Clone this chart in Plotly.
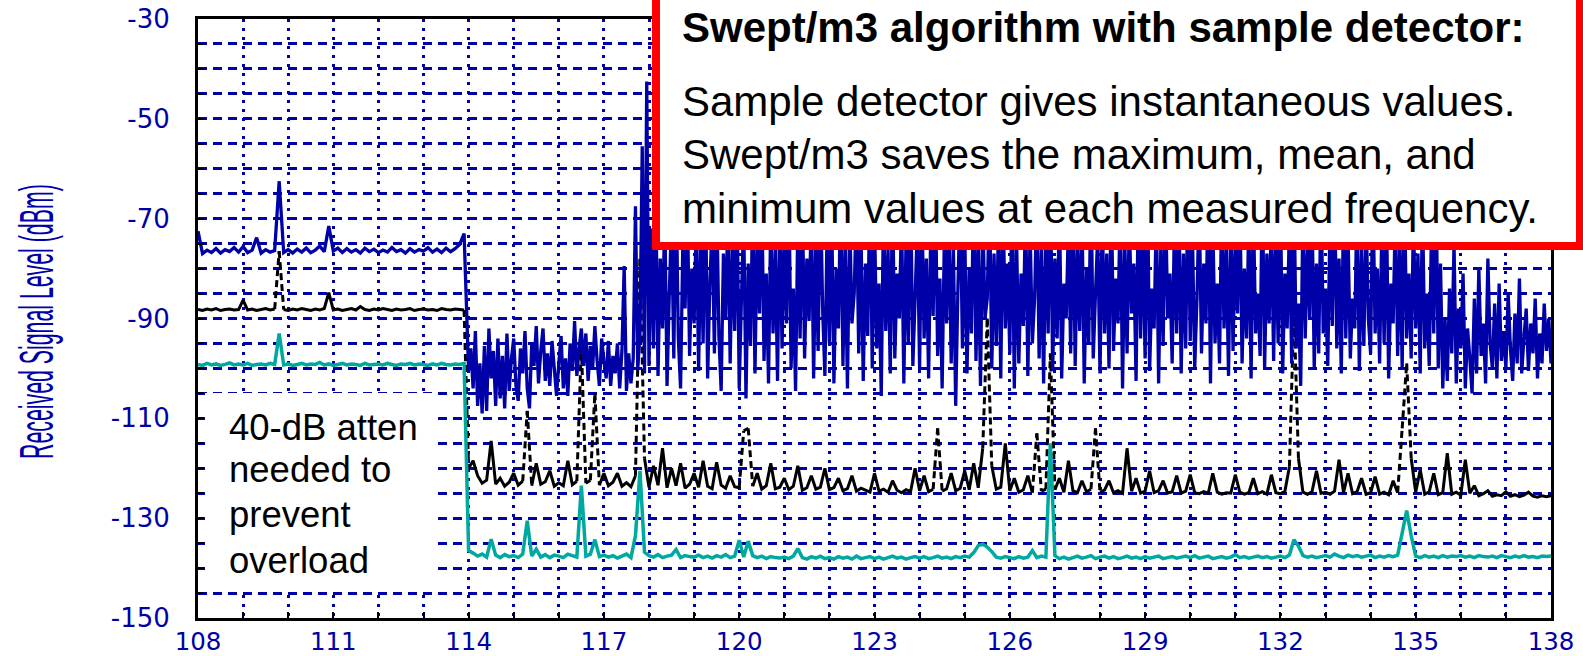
import numpy as np
import plotly.graph_objects as go

# ---------------- data ----------------
# frequency grids (MHz)
freq_a = np.round(np.linspace(108.0, 113.9, 60), 2)        # before 114 MHz (40-dB atten)
freq_b = np.round(np.linspace(114.0, 138.0, 241), 2)       # after 114 MHz
freq_b_fine = np.round(np.linspace(114.0, 138.0, 481), 2)  # after 114 MHz, max trace

# maximum (blue)
max_a = [-72.5, -77.0, -76.3, -76.8, -76.0, -76.9, -76.2, -76.6, -75.8, -76.7,
         -75.6, -76.8, -76.3, -73.8, -76.9, -76.2, -76.7, -76.4, -62.5, -76.8,
         -76.2, -76.9, -76.1, -76.7, -75.9, -76.8, -76.3, -75.5, -76.6, -71.5,
         -76.5, -75.9, -76.8, -76.0, -76.7, -76.2, -76.9, -75.9, -76.6, -76.1,
         -76.8, -76.3, -76.7, -75.8, -76.6, -76.2, -76.9, -76.0, -76.7, -76.2,
         -76.5, -75.8, -76.7, -76.1, -76.8, -75.9, -76.6, -76.0, -75.2, -73.0]
max_b = [
    -100.5, -96.0, -104.0, -92.5, -107.5, -99.0, -109.0, -95.5, -108.5, -92.0, -102.0, -96.5, -107.5, -94.0, -106.0, -97.5, -108.0, -93.0, -104.5, -98.0,
    -94.0, -103.5, -106.5, -96.0, -101.0, -92.5, -104.0, -108.0, -95.0, -99.5, -91.5, -103.0, -96.5, -92.0, -102.5, -97.0, -103.5, -94.5, -100.0, -105.5,
    -99.0, -93.5, -104.0, -98.0, -105.5, -95.0, -100.5, -90.5, -101.5, -96.0, -92.0, -99.5, -93.0, -102.5, -95.5, -100.0, -91.5, -98.5, -103.5, -94.0,
    -98.5, -102.0, -94.5, -103.5, -97.5, -101.0, -95.0, -104.0, -96.5, -79.5, -104.5, -97.0, -103.0, -98.0, -67.5, -100.0, -93.0, -55.5, -101.0, -42.5,
    -99.5, -72.0, -96.0, -64.0, -101.5, -78.0, -92.0, -68.0, -103.5, -85.0, -70.0, -98.0, -62.0, -94.0, -104.0, -75.0, -88.0, -66.0, -97.5, -80.0,
    -91.0, -69.0, -100.5, -73.0, -95.0, -61.0, -102.0, -83.0, -71.0, -97.0, -65.0, -93.5, -104.5, -77.0, -90.0, -68.0, -99.0, -74.0, -92.5, -63.0,
    -104.0, -86.0, -70.0, -106.0, -79.0, -95.5, -66.0, -101.0, -72.0, -89.0, -64.0, -98.5, -81.0, -103.0, -69.0, -93.0, -76.0, -102.5, -67.0, -96.0,
    -73.0, -91.0, -62.0, -100.0, -84.0, -104.5, -70.0, -94.0, -65.0, -98.0, -78.0, -90.5, -67.0, -102.0, -74.0, -96.5, -63.0, -88.0, -101.5, -71.0,
    -95.0, -68.0, -103.0, -80.0, -92.0, -64.0, -99.5, -75.0, -104.0, -69.0, -91.0, -85.0, -66.0, -97.0, -72.0, -102.5, -79.0, -93.5, -61.0, -100.0,
    -70.0, -96.0, -83.0, -105.5, -67.0, -92.5, -76.0, -101.0, -64.0, -98.0, -81.0, -90.0, -69.0, -103.0, -74.0, -95.0, -62.0, -99.5, -86.0, -71.0,
    -100.0, -66.0, -94.0, -78.0, -102.0, -70.0, -89.5, -63.0, -97.5, -82.0, -104.0, -73.0, -91.0, -67.0, -99.0, -76.0, -107.5, -84.0, -65.0, -96.0,
    -72.0, -101.0, -80.0, -93.0, -61.0, -98.5, -75.0, -103.5, -68.0, -90.0, -86.0, -64.0, -100.0, -77.0, -95.5, -70.0, -102.0, -66.0, -92.0, -79.0,
    -97.0, -63.0, -104.0, -74.0, -99.0, -81.0, -91.5, -67.0, -101.5, -72.0, -95.0, -86.0, -65.0, -98.0, -76.0, -103.0, -69.0, -93.0, -61.0, -100.5,
    -78.0, -94.0, -66.0, -102.0, -83.0, -90.0, -71.0, -97.0, -64.0, -99.5, -75.0, -92.5, -68.0, -103.0, -80.0, -95.0, -62.0, -98.0, -85.0, -73.0,
    -101.0, -69.0, -93.0, -77.0, -100.0, -63.0, -96.5, -82.0, -91.0, -66.0, -104.0, -74.0, -97.0, -70.0, -89.0, -79.0, -102.5, -65.0, -94.0, -72.0,
    -98.0, -61.0, -100.5, -84.0, -92.0, -68.0, -103.0, -75.0, -95.5, -64.0, -90.0, -81.0, -99.0, -71.0, -93.0, -67.0, -101.0, -77.0, -96.0, -63.0,
    -94.5, -73.0, -100.0, -86.0, -66.0, -97.0, -79.0, -91.0, -62.0, -103.0, -70.0, -95.0, -83.0, -99.0, -65.0, -92.0, -76.0, -101.5, -68.0, -96.5,
    -74.0, -89.0, -64.0, -99.0, -80.0, -94.0, -70.0, -102.0, -67.0, -93.0, -85.0, -97.5, -62.0, -100.0, -77.0, -91.0, -69.0, -98.5, -72.0, -95.0,
    -65.0, -101.0, -81.0, -92.0, -71.0, -99.0, -63.0, -96.0, -87.0, -103.5, -68.0, -94.0, -75.0, -90.0, -66.0, -100.0, -79.0, -97.0, -64.0, -93.0,
    -84.0, -99.5, -70.0, -91.5, -62.0, -96.0, -78.0, -101.0, -67.0, -94.0, -73.0, -98.0, -86.0, -92.0, -65.0, -100.5, -76.0, -95.5, -69.0, -90.0,
    -97.0, -63.0, -93.0, -80.0, -99.0, -71.0, -95.0, -66.0, -102.0, -83.0, -91.0, -68.0, -97.5, -74.0, -100.0, -64.0, -94.0, -81.0, -98.0, -70.0,
    -92.0, -77.0, -101.0, -67.0, -96.0, -85.0, -99.5, -72.0, -93.0, -62.0, -100.0, -79.0, -104.0, -90.0, -102.5, -84.0, -97.0, -75.0, -103.0, -88.0,
    -96.0, -81.0, -104.0, -92.0, -98.0, -105.0, -86.0, -101.0, -80.0, -97.5, -91.0, -103.0, -78.0, -95.0, -100.0, -87.0, -102.0, -83.0, -98.5, -92.5,
    -100.0, -85.0, -96.0, -102.5, -89.0, -99.0, -82.0, -101.0, -94.0, -88.0, -100.5, -91.0, -97.0, -86.0, -102.0, -93.0, -99.0, -87.0, -96.5, -90.0,
    -99.0]

# mean (black)
mean_a = [-88.2, -88.4, -88.1, -88.3, -88.0, -88.4, -88.2, -88.1, -88.3, -88.2,
          -86.3, -88.3, -88.1, -88.4, -88.2, -88.0, -88.3, -88.1, -76.5, -88.2,
          -88.4, -88.1, -88.3, -88.0, -88.2, -88.4, -88.1, -88.3, -88.0, -84.8,
          -88.3, -88.1, -88.4, -88.2, -88.0, -88.3, -87.6, -88.2, -88.4, -88.1,
          -88.3, -88.0, -88.2, -88.4, -88.1, -88.3, -88.2, -88.0, -88.4, -88.2,
          -88.1, -88.3, -88.2, -88.4, -88.0, -88.2, -88.3, -88.1, -88.2, -88.3]
mean_b = [
    -120.0, -118.5, -121.5, -123.0, -122.4, -114.5, -123.2, -122.0, -123.6, -122.8,
    -121.0, -123.4, -122.6, -108.5, -123.5, -119.0, -123.2, -122.7, -120.5, -123.6,
    -122.9, -123.5, -118.5, -123.3, -122.6, -95.5, -123.0, -122.4, -105.0, -123.4,
    -121.0, -123.5, -122.8, -121.0, -123.6, -122.9, -123.7, -121.5, -78.0, -118.0,
    -123.8, -119.5, -123.4, -116.0, -123.9, -120.0, -123.5, -119.0, -124.0, -123.2,
    -121.0, -123.8, -118.5, -123.6, -124.1, -118.8, -123.4, -124.0, -121.5, -123.7,
    -123.9, -112.5, -112.0, -123.6, -121.0, -124.2, -123.5, -119.0, -124.1, -123.8,
    -122.0, -124.3, -123.6, -119.5, -124.4, -123.9, -121.5, -124.2, -123.8, -120.0,
    -124.3, -123.9, -122.0, -124.5, -124.1, -121.5, -124.6, -124.0, -124.4, -124.8,
    -121.0, -124.6, -124.2, -124.8, -122.5, -124.4, -124.9, -124.3, -124.7, -120.0,
    -124.5, -121.5, -124.7, -124.2, -112.0, -124.6, -124.1, -121.0, -124.5, -124.0,
    -120.5, -124.3, -119.0, -123.9, -116.0, -90.0, -119.5, -124.2, -123.8, -115.0,
    -124.5, -122.0, -124.8, -124.3, -121.5, -124.9, -113.0, -124.6, -124.2, -97.0,
    -124.3, -122.0, -124.8, -118.5, -124.5, -124.9, -122.5, -124.7, -124.2, -112.0,
    -124.8, -124.4, -122.5, -124.9, -124.5, -125.0, -116.0, -124.6, -122.0, -125.0,
    -124.6, -120.5, -124.9, -124.5, -122.5, -125.0, -124.7, -121.5, -125.0, -124.6,
    -121.3, -124.9, -125.1, -124.7, -125.0, -121.0, -124.8, -125.2, -124.9, -125.0,
    -121.3, -124.8, -125.2, -124.9, -122.0, -125.1, -124.7, -125.2, -121.3, -124.9,
    -125.1, -124.6, -119.7, -88.0, -118.0, -124.8, -125.2, -124.7, -120.5, -125.0,
    -124.8, -125.2, -124.6, -118.3, -124.9, -121.0, -125.1, -124.7, -122.0, -125.2,
    -124.9, -121.7, -125.2, -124.8, -125.3, -122.5, -124.9, -112.0, -99.0, -118.0,
    -124.8, -120.3, -125.2, -124.7, -121.0, -125.3, -124.9, -117.0, -125.2, -124.8,
    -125.4, -118.3, -125.0, -123.5, -125.5, -125.1, -124.5, -125.6, -125.3, -125.5,
    -124.7, -125.6, -125.3, -125.7, -125.4, -124.8, -125.6, -125.8, -125.5, -125.7,
    -125.5]

# minimum (teal)
min_a = [-99.2, -99.4, -99.0, -99.3, -99.1, -99.4, -99.2, -98.9, -99.3, -99.1,
         -99.3, -99.0, -99.4, -99.2, -99.1, -99.3, -99.0, -99.2, -93.0, -99.3,
         -99.1, -99.4, -99.2, -99.0, -99.3, -99.1, -99.2, -98.8, -99.3, -99.1,
         -99.4, -99.2, -99.0, -99.3, -99.1, -99.2, -99.4, -99.0, -99.3, -99.2,
         -99.1, -99.3, -99.0, -99.2, -99.4, -99.1, -99.2, -99.0, -99.3, -99.1,
         -99.2, -99.4, -99.1, -99.3, -99.0, -99.2, -99.3, -99.1, -99.2, -99.0]
min_b = [
    -136.5, -137.0, -137.6, -137.2, -137.8, -134.2, -137.4, -137.9, -137.3, -137.7,
    -137.5, -137.9, -137.2, -130.5, -137.6, -136.2, -137.8, -137.3, -137.9, -137.4,
    -137.6, -137.9, -137.2, -137.5, -137.8, -123.5, -137.6, -137.2, -134.3, -137.7,
    -137.4, -137.8, -137.5, -138.0, -137.6, -137.2, -137.9, -133.5, -120.5, -136.8,
    -137.5, -137.8, -137.3, -137.9, -137.6, -137.4, -136.3, -137.9, -137.5, -137.7,
    -137.8, -137.4, -137.9, -137.6, -138.0, -137.5, -137.8, -137.3, -137.9, -137.6,
    -134.4, -137.8, -134.6, -137.5, -137.9, -137.6, -138.1, -137.7, -137.9, -138.0,
    -137.8, -138.1, -137.6, -136.1, -137.9, -138.2, -137.7, -138.0, -137.6, -138.1,
    -137.9, -138.2, -137.7, -138.0, -137.8, -138.2, -137.6, -138.1, -137.9, -137.7,
    -138.1, -137.8, -138.2, -137.9, -137.6, -138.0, -137.8, -138.2, -137.9, -137.7,
    -138.0, -137.7, -138.1, -137.9, -137.6, -138.0, -137.8, -138.1, -137.7, -137.9,
    -137.6, -137.8, -136.9, -135.5, -135.2, -135.8, -136.7, -137.8, -138.0, -137.7,
    -137.9, -138.1, -137.7, -138.0, -137.8, -136.5, -137.9, -137.6, -137.8, -115.0,
    -137.5, -138.1, -137.8, -138.2, -137.9, -137.6, -138.0, -137.8, -137.5, -138.1,
    -137.8, -137.6, -138.0, -137.7, -138.1, -137.9, -137.6, -138.0, -137.8, -138.1,
    -137.7, -138.0, -137.8, -137.6, -138.1, -137.9, -137.7, -138.0, -137.8, -137.6,
    -137.9, -137.5, -138.0, -137.8, -137.6, -138.1, -137.9, -137.7, -138.0, -137.8,
    -137.3, -137.9, -137.7, -138.0, -137.8, -137.6, -137.9, -137.7, -138.0, -137.8,
    -137.6, -137.9, -137.4, -134.3, -135.6, -137.5, -137.8, -137.6, -137.9, -137.7,
    -137.5, -137.8, -137.2, -137.6, -137.9, -137.4, -137.7, -137.5, -137.8, -137.6,
    -137.4, -137.9, -137.6, -137.8, -137.5, -137.7, -137.4, -133.0, -128.5, -133.5,
    -137.6, -137.9, -137.5, -137.8, -137.6, -137.9, -137.5, -137.8, -137.6, -137.7,
    -137.5, -137.8, -137.6, -137.9, -137.5, -137.7, -137.8, -137.6, -137.9, -137.5,
    -137.7, -137.9, -137.6, -137.8, -137.5, -137.8, -137.7, -137.9, -137.6, -137.7,
    -137.6]

x_tick_vals = [108, 111, 114, 117, 120, 123, 126, 129, 132, 135, 138]
y_tick_vals = [-150, -130, -110, -90, -70, -50, -30]
y_tick_text = ["-150", "-130", "-110", "-90", "-70", "-50", "-30"]

y_title = "Received Signal Level (dBm)"
note_lines = ["40-dB atten", "needed to", "prevent", "overload"]
box_title = "Swept/m3 algorithm with sample detector:"
box_lines = ["Sample detector gives instantaneous values.",
             "Swept/m3 saves the maximum, mean, and",
             "minimum values at each measured frequency."]

assert len(max_a) == len(freq_a) and len(mean_a) == len(freq_a) and len(min_a) == len(freq_a)
assert len(max_b) == len(freq_b_fine) and len(mean_b) == len(freq_b) and len(min_b) == len(freq_b)

# ---------------- styling ----------------
BLUE = "#0000A8"
TEAL = "#00A9A0"
GRID = "#0000A8"
W, H = 1583, 656
L, R, T, B = 198, 32, 19, 38
PW, PH = W - L - R, H - T - B


def px2x(px):
    return (px - L) / PW


def py2y(py):
    return (H - B - py) / PH


x_max = np.concatenate([freq_a, freq_b_fine])
y_max = np.concatenate([max_a, max_b])
x_mm = np.concatenate([freq_a, freq_b])
y_mean = np.concatenate([mean_a, mean_b])
y_min = np.concatenate([min_a, min_b])


def split_jumps(x, y, thr):
    """solid path broken at large jumps; the large jumps returned as a dashed path"""
    xs, ys, xd, yd = [], [], [], []
    for i in range(len(x)):
        if i > 0 and abs(y[i] - y[i - 1]) > thr:
            xs.append(None); ys.append(None)
            xd += [x[i - 1], x[i], None]; yd += [y[i - 1], y[i], None]
        xs.append(x[i]); ys.append(y[i])
    return xs, ys, xd, yd


xs, ys, xd, yd = split_jumps(list(x_mm), list(y_mean), 10.0)

fig = go.Figure()
fig.add_trace(go.Scatter(x=xs, y=ys, mode="lines", line=dict(color="black", width=3, simplify=False),
                         connectgaps=False, name="mean"))
fig.add_trace(go.Scatter(x=xd, y=yd, mode="lines", line=dict(color="black", width=3, dash="7px,4px"),
                         connectgaps=False, name="mean spikes"))
fig.add_trace(go.Scatter(x=x_mm, y=y_min, mode="lines", line=dict(color=TEAL, width=3.5, simplify=False),
                         name="minimum"))
fig.add_trace(go.Scatter(x=x_max, y=y_max, mode="lines", line=dict(color=BLUE, width=3.3, simplify=False),
                         name="maximum"))

fig.update_xaxes(range=[108, 138], tickmode="array", tickvals=x_tick_vals, automargin=False,
                 ticks="inside", ticklen=6, tickwidth=2, tickcolor="black",
                 showgrid=True, gridcolor=GRID, gridwidth=2.5, griddash="3px,6px",
                 minor=dict(tickmode="linear", tick0=108, dtick=1, ticks="inside", ticklen=6,
                            tickwidth=2, tickcolor="black", showgrid=True, gridcolor=GRID,
                            gridwidth=2.5, griddash="3px,6px"),
                 showline=True, mirror=True, linecolor="black", linewidth=3,
                 zeroline=False, tickfont=dict(family="DejaVu Sans", size=24.5, color=BLUE),
                 ticklabelstandoff=0)
fig.update_yaxes(range=[-150, -30], tickmode="array", tickvals=y_tick_vals, ticktext=y_tick_text,
                 automargin=False,
                 ticks="inside", ticklen=6, tickwidth=2, tickcolor="black",
                 showgrid=True, gridcolor=GRID, gridwidth=2.5, griddash="9px,6px",
                 minor=dict(tickmode="linear", tick0=-150, dtick=5, ticks="inside", ticklen=6,
                            tickwidth=2, tickcolor="black", showgrid=True, gridcolor=GRID,
                            gridwidth=2.5, griddash="9px,6px"),
                 showline=True, mirror=True, linecolor="black", linewidth=3,
                 zeroline=False, tickfont=dict(family="DejaVu Sans", size=26, color=BLUE),
                 ticklabelstandoff=20)

shapes = [
    # white panel behind the attenuation note
    dict(type="rect", xref="paper", yref="paper", x0=px2x(205), x1=px2x(437), y0=py2y(590), y1=py2y(393),
         fillcolor="white", line=dict(width=0), layer="above"),
    # red callout box
    dict(type="rect", xref="paper", yref="paper", x0=px2x(656), x1=px2x(1580), y0=py2y(246), y1=py2y(-30),
         fillcolor="white", line=dict(color="#FF0000", width=8), layer="above"),
]

annotations = []
txt_font = "Liberation Sans, Arial, sans-serif"
# attenuation note
for line, base in zip(note_lines, [440, 482, 527, 573]):
    annotations.append(dict(text=line, xref="paper", yref="paper", x=px2x(227), y=py2y(base - 0.3465 * 36.5),
                            xanchor="left", yanchor="middle", showarrow=False,
                            font=dict(family=txt_font, size=36.5, color="black")))
# callout box
annotations.append(dict(text="<b>" + box_title + "</b>", xref="paper", yref="paper", x=px2x(680),
                        y=py2y(42 - 0.3465 * 42), xanchor="left", yanchor="middle", showarrow=False,
                        font=dict(family=txt_font, size=42, color="black")))
for line, base in zip(box_lines, [116, 169.5, 223]):
    annotations.append(dict(text=line, xref="paper", yref="paper", x=px2x(680), y=py2y(base - 0.3465 * 42),
                            xanchor="left", yanchor="middle", showarrow=False,
                            font=dict(family=txt_font, size=42, color="black")))
# y-axis title (condensed afterwards in the page script)
annotations.append(dict(text=y_title, xref="paper", yref="paper", x=px2x(36), y=py2y(322),
                        xanchor="center", yanchor="middle", textangle=-90, showarrow=False,
                        font=dict(family="Liberation Sans", size=30, color=BLUE)))

fig.update_layout(width=W, height=H, autosize=False,
                  margin=dict(l=L, r=R, t=T, b=B, pad=0, autoexpand=False),
                  paper_bgcolor="white", plot_bgcolor="white",
                  showlegend=False, shapes=shapes, annotations=annotations)

post_js = """
document.body.style.margin = '0';
var gd = document.getElementById('{plot_id}');
gd.querySelectorAll('text.annotation-text').forEach(function(t){
  if (t.textContent.indexOf('Received') === 0) {
    var bb = t.getBBox();
    var cx = bb.x + bb.width / 2, cy = bb.y + bb.height / 2;
    var old = t.getAttribute('transform') || '';
    t.setAttribute('transform', old + ' translate(' + cx + ',' + cy + ') scale(0.71,1.6) translate(' + (-cx) + ',' + (-cy) + ')');
  }
});
"""

fig.write_html("out.html", post_script=post_js, config={"displayModeBar": False})
